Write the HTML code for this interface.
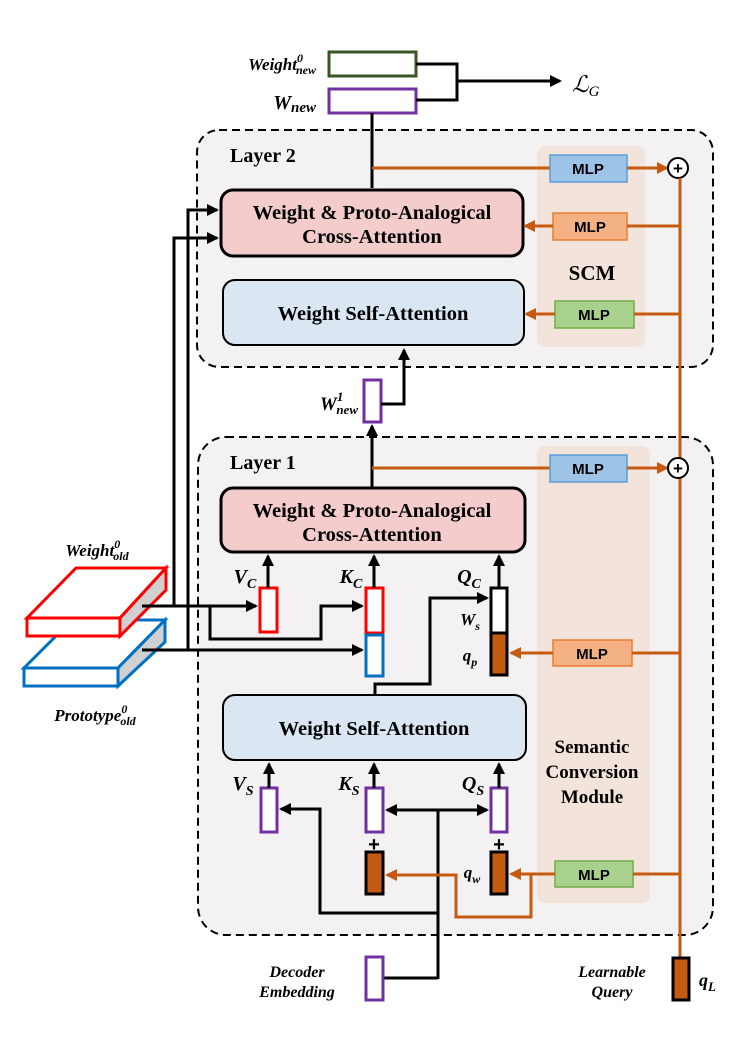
<!DOCTYPE html>
<html><head><meta charset="utf-8"><style>
html,body{margin:0;padding:0;background:#fff;}
svg{display:block;}
.t{font-family:"Liberation Serif",serif;font-weight:bold;}
.i{font-family:"Liberation Serif",serif;font-weight:bold;font-style:italic;}
.m{font-family:"Liberation Sans",sans-serif;font-weight:bold;font-size:15px;}
</style></head><body>
<svg width="747" height="1058" viewBox="0 0 747 1058" xmlns="http://www.w3.org/2000/svg">
<defs>
<marker id="ab" markerWidth="12" markerHeight="12" refX="10" refY="6" orient="auto" markerUnits="userSpaceOnUse"><path d="M0,0 L12,6 L0,12 z" fill="#000"/></marker>
<marker id="ao" markerWidth="12" markerHeight="12" refX="10" refY="6" orient="auto" markerUnits="userSpaceOnUse"><path d="M0,0 L12,6 L0,12 z" fill="#c55a11"/></marker>
</defs>

<rect x="197" y="130" width="516" height="237" rx="22" fill="#f3f1f2" stroke="#000" stroke-width="2" stroke-dasharray="8,5"/>
<rect x="198" y="437" width="515" height="498" rx="28" fill="#f3f1f2" stroke="#000" stroke-width="2" stroke-dasharray="8,5"/>
<rect x="537" y="146" width="108" height="201" rx="8" fill="#f2e4da"/>
<rect x="537" y="446" width="113" height="457" rx="8" fill="#f2e4da"/>

<text x="230" y="162" class="t" font-size="20">Layer 2</text>
<text x="230" y="469" class="t" font-size="20">Layer 1</text>
<text x="592" y="280" class="t" font-size="21" text-anchor="middle">SCM</text>
<text x="592" y="753" class="t" font-size="19" text-anchor="middle">Semantic</text>
<text x="592" y="778" class="t" font-size="19" text-anchor="middle">Conversion</text>
<text x="592" y="803" class="t" font-size="19" text-anchor="middle">Module</text>

<rect x="329" y="52" width="87" height="24" fill="#fff" stroke="#375623" stroke-width="3"/>
<rect x="329" y="89" width="87" height="24" fill="#fff" stroke="#7030a0" stroke-width="3"/>
<text x="316" y="70" class="i" font-size="17" text-anchor="end">Weight<tspan font-size="12" dy="-8">0</tspan><tspan font-size="12" dx="-7" dy="12">new</tspan></text>
<text x="316" y="109" class="i" font-size="20" text-anchor="end">W<tspan font-size="15" dy="3">new</tspan></text>
<polyline points="416,64 457,64 457,100 416,100" fill="none" stroke="#000" stroke-width="3"/>
<line x1="457" y1="81" x2="560" y2="81" stroke="#000" stroke-width="3" marker-end="url(#ab)"/>
<text x="572" y="92" font-family="Liberation Serif,serif" font-style="italic" font-size="23">ℒ<tspan font-size="15" dy="4">G</tspan></text>

<line x1="372" y1="113" x2="372" y2="188" stroke="#000" stroke-width="3"/>
<line x1="372" y1="168" x2="550" y2="168" stroke="#c55a11" stroke-width="3"/>
<rect x="550" y="155" width="77" height="27" fill="#9dc3e6" stroke="#5b9bd5" stroke-width="1.5"/>
<text x="588" y="174" class="m" text-anchor="middle">MLP</text>
<line x1="627" y1="168" x2="667" y2="168" stroke="#c55a11" stroke-width="3" marker-end="url(#ao)"/>
<circle cx="678" cy="168" r="10" fill="#fff" stroke="#000" stroke-width="2"/>
<text x="678" y="174" font-family="Liberation Sans,sans-serif" font-size="17" font-weight="bold" text-anchor="middle">+</text>

<rect x="221" y="190" width="302" height="66" rx="12" fill="#f4cccc" stroke="#000" stroke-width="3"/>
<text x="372" y="219" class="t" font-size="20.5" text-anchor="middle">Weight &amp; Proto-Analogical</text>
<text x="372" y="243" class="t" font-size="20.5" text-anchor="middle">Cross-Attention</text>
<rect x="553" y="213" width="74" height="27" fill="#f4b183" stroke="#ed7d31" stroke-width="1.5"/>
<text x="590" y="232" class="m" text-anchor="middle">MLP</text>
<line x1="680" y1="226" x2="627" y2="226" stroke="#c55a11" stroke-width="3"/>
<line x1="553" y1="226" x2="525" y2="226" stroke="#c55a11" stroke-width="3" marker-end="url(#ao)"/>

<rect x="223" y="280" width="301" height="65" rx="12" fill="#dae6f2" stroke="#000" stroke-width="2"/>
<text x="373" y="320" class="t" font-size="20.5" text-anchor="middle">Weight Self-Attention</text>
<rect x="555" y="301" width="79" height="27" fill="#a9d18e" stroke="#70ad47" stroke-width="1.5"/>
<text x="594" y="320" class="m" text-anchor="middle">MLP</text>
<line x1="680" y1="314" x2="634" y2="314" stroke="#c55a11" stroke-width="3"/>
<line x1="555" y1="314" x2="526" y2="314" stroke="#c55a11" stroke-width="3" marker-end="url(#ao)"/>

<line x1="680" y1="178" x2="680" y2="958" stroke="#c55a11" stroke-width="3"/>

<rect x="364" y="380" width="17" height="42" fill="#fff" stroke="#7030a0" stroke-width="3"/>
<text x="358" y="410" class="i" font-size="19" text-anchor="end">W<tspan font-size="13" dy="-9">1</tspan><tspan font-size="13" dx="-7" dy="13">new</tspan></text>
<line x1="372" y1="488" x2="372" y2="426" stroke="#000" stroke-width="3" marker-end="url(#ab)"/>
<polyline points="381,404 404,404 404,350" fill="none" stroke="#000" stroke-width="3" marker-end="url(#ab)"/>

<polyline points="142,606 174,606 174,238 217,238" fill="none" stroke="#000" stroke-width="3" marker-end="url(#ab)"/>
<polyline points="142,650 188,650 188,210 217,210" fill="none" stroke="#000" stroke-width="3" marker-end="url(#ab)"/>

<line x1="372" y1="468" x2="550" y2="468" stroke="#c55a11" stroke-width="3"/>
<rect x="550" y="455" width="77" height="27" fill="#9dc3e6" stroke="#5b9bd5" stroke-width="1.5"/>
<text x="588" y="474" class="m" text-anchor="middle">MLP</text>
<line x1="627" y1="468" x2="667" y2="468" stroke="#c55a11" stroke-width="3" marker-end="url(#ao)"/>
<circle cx="678" cy="468" r="10" fill="#fff" stroke="#000" stroke-width="2"/>
<text x="678" y="474" font-family="Liberation Sans,sans-serif" font-size="17" font-weight="bold" text-anchor="middle">+</text>

<rect x="221" y="488" width="304" height="64" rx="12" fill="#f4cccc" stroke="#000" stroke-width="3"/>
<text x="372" y="517" class="t" font-size="20.5" text-anchor="middle">Weight &amp; Proto-Analogical</text>
<text x="372" y="541" class="t" font-size="20.5" text-anchor="middle">Cross-Attention</text>

<polygon points="24,668 72,620 165,620 118,668" fill="#fff" stroke="#0070c0" stroke-width="3"/>
<polygon points="118,668 165,620 165,642 118,686" fill="#d0d0d0" stroke="#0070c0" stroke-width="3"/>
<rect x="24" y="668" width="94" height="18" fill="#fff" stroke="#0070c0" stroke-width="3"/>
<polygon points="27,618 76,568 166,568 120,618" fill="#fff" stroke="#ff0000" stroke-width="3"/>
<polygon points="120,618 166,568 166,590 120,636" fill="#d0d0d0" stroke="#ff0000" stroke-width="3"/>
<rect x="27" y="618" width="93" height="18" fill="#fff" stroke="#ff0000" stroke-width="3"/>
<text x="97" y="556" class="i" font-size="17" text-anchor="middle">Weight<tspan font-size="12" dy="-8">0</tspan><tspan font-size="12" dx="-7" dy="12">old</tspan></text>
<text x="95" y="721" class="i" font-size="17" text-anchor="middle">Prototype<tspan font-size="12" dy="-8">0</tspan><tspan font-size="12" dx="-7" dy="12">old</tspan></text>

<rect x="260" y="588" width="17" height="44" fill="#fff" stroke="#ff0000" stroke-width="3"/>
<rect x="366" y="588" width="17" height="45" fill="#fff" stroke="#ff0000" stroke-width="3"/>
<rect x="366" y="635" width="17" height="41" fill="#fff" stroke="#0070c0" stroke-width="3"/>
<rect x="491" y="588" width="16" height="45" fill="#fff" stroke="#000" stroke-width="3"/>
<rect x="491" y="633" width="16" height="42" fill="#c55a11" stroke="#000" stroke-width="3"/>
<line x1="268" y1="588" x2="268" y2="556" stroke="#000" stroke-width="3" marker-end="url(#ab)"/>
<line x1="374" y1="588" x2="374" y2="556" stroke="#000" stroke-width="3" marker-end="url(#ab)"/>
<line x1="499" y1="588" x2="499" y2="556" stroke="#000" stroke-width="3" marker-end="url(#ab)"/>
<text x="245" y="583" class="i" font-size="20" text-anchor="middle">V<tspan font-size="14" dy="5">C</tspan></text>
<text x="351" y="583" class="i" font-size="20" text-anchor="middle">K<tspan font-size="14" dy="5">C</tspan></text>
<text x="469" y="583" class="i" font-size="20" text-anchor="middle">Q<tspan font-size="14" dy="5">C</tspan></text>
<text x="470" y="625" class="i" font-size="17" text-anchor="middle">W<tspan font-size="12" dy="5">s</tspan></text>
<text x="470" y="661" class="i" font-size="17" text-anchor="middle">q<tspan font-size="12" dy="5">p</tspan></text>

<line x1="142" y1="606" x2="256" y2="606" stroke="#000" stroke-width="3" marker-end="url(#ab)"/>
<polyline points="210,606 210,639 321,639 321,606 362,606" fill="none" stroke="#000" stroke-width="3" marker-end="url(#ab)"/>
<line x1="142" y1="650" x2="362" y2="650" stroke="#000" stroke-width="3" marker-end="url(#ab)"/>
<polyline points="375,695 375,684 430,684 430,598 487,598" fill="none" stroke="#000" stroke-width="3" marker-end="url(#ab)"/>

<rect x="553" y="640" width="79" height="26" fill="#f4b183" stroke="#ed7d31" stroke-width="1.5"/>
<text x="592" y="659" class="m" text-anchor="middle">MLP</text>
<line x1="680" y1="653" x2="632" y2="653" stroke="#c55a11" stroke-width="3"/>
<line x1="553" y1="653" x2="511" y2="653" stroke="#c55a11" stroke-width="3" marker-end="url(#ao)"/>

<rect x="223" y="695" width="303" height="65" rx="12" fill="#dae6f2" stroke="#000" stroke-width="2"/>
<text x="374" y="735" class="t" font-size="20.5" text-anchor="middle">Weight Self-Attention</text>

<rect x="261" y="788" width="16" height="44" fill="#fff" stroke="#7030a0" stroke-width="3"/>
<rect x="366" y="788" width="17" height="44" fill="#fff" stroke="#7030a0" stroke-width="3"/>
<rect x="491" y="788" width="16" height="44" fill="#fff" stroke="#7030a0" stroke-width="3"/>
<line x1="269" y1="788" x2="269" y2="764" stroke="#000" stroke-width="3" marker-end="url(#ab)"/>
<line x1="374" y1="788" x2="374" y2="764" stroke="#000" stroke-width="3" marker-end="url(#ab)"/>
<line x1="499" y1="788" x2="499" y2="764" stroke="#000" stroke-width="3" marker-end="url(#ab)"/>
<text x="243" y="790" class="i" font-size="20" text-anchor="middle">V<tspan font-size="14" dy="5">S</tspan></text>
<text x="349" y="790" class="i" font-size="20" text-anchor="middle">K<tspan font-size="14" dy="5">S</tspan></text>
<text x="473" y="790" class="i" font-size="20" text-anchor="middle">Q<tspan font-size="14" dy="5">S</tspan></text>
<text x="374" y="851" font-family="Liberation Sans,sans-serif" font-weight="bold" font-size="20" text-anchor="middle">+</text>
<text x="499" y="851" font-family="Liberation Sans,sans-serif" font-weight="bold" font-size="20" text-anchor="middle">+</text>
<rect x="366" y="852" width="17" height="42" fill="#c55a11" stroke="#000" stroke-width="3"/>
<rect x="491" y="852" width="16" height="42" fill="#c55a11" stroke="#000" stroke-width="3"/>
<text x="472" y="878" class="i" font-size="17" text-anchor="middle">q<tspan font-size="12" dy="5">w</tspan></text>

<line x1="438" y1="810" x2="387" y2="810" stroke="#000" stroke-width="3" marker-end="url(#ab)"/>
<line x1="438" y1="810" x2="487" y2="810" stroke="#000" stroke-width="3" marker-end="url(#ab)"/>
<line x1="438" y1="810" x2="438" y2="979" stroke="#000" stroke-width="3"/>
<polyline points="438,913 320,913 320,809 281,809" fill="none" stroke="#000" stroke-width="3" marker-end="url(#ab)"/>
<line x1="383" y1="978" x2="438" y2="978" stroke="#000" stroke-width="3"/>
<rect x="366" y="957" width="17" height="43" fill="#fff" stroke="#7030a0" stroke-width="3"/>
<text x="297" y="977" class="i" font-size="16" text-anchor="middle">Decoder</text>
<text x="297" y="997" class="i" font-size="16" text-anchor="middle">Embedding</text>

<rect x="555" y="861" width="78" height="26" fill="#a9d18e" stroke="#70ad47" stroke-width="1.5"/>
<text x="594" y="880" class="m" text-anchor="middle">MLP</text>
<line x1="680" y1="874" x2="633" y2="874" stroke="#c55a11" stroke-width="3"/>
<line x1="555" y1="874" x2="511" y2="874" stroke="#c55a11" stroke-width="3" marker-end="url(#ao)"/>
<polyline points="531,874 531,917 456,917 456,875 387,875" fill="none" stroke="#c55a11" stroke-width="3" marker-end="url(#ao)"/>

<rect x="673" y="958" width="16" height="42" fill="#c55a11" stroke="#000" stroke-width="3"/>
<text x="699" y="986" class="i" font-size="18">q<tspan font-size="13" dy="5">L</tspan></text>
<text x="612" y="977" class="i" font-size="16" text-anchor="middle">Learnable</text>
<text x="612" y="997" class="i" font-size="16" text-anchor="middle">Query</text>
</svg>
</body></html>
